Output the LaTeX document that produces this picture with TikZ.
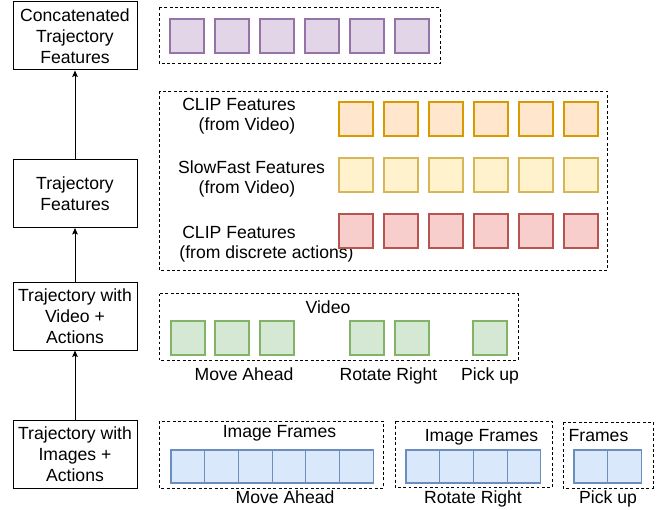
\documentclass[tikz,border=0pt]{standalone}
\usepackage{fontspec}
\setmainfont{Liberation Sans}
\usetikzlibrary{positioning,arrows.meta}
\definecolor{purplefill}{HTML}{E1D5E7}
\definecolor{purpleline}{HTML}{9673A6}
\definecolor{orangefill}{HTML}{FFE6CC}
\definecolor{orangeline}{HTML}{D79B00}
\definecolor{yellowfill}{HTML}{FFF2CC}
\definecolor{yellowline}{HTML}{D6B656}
\definecolor{redfill}{HTML}{F8CECC}
\definecolor{redline}{HTML}{B85450}
\definecolor{greenfill}{HTML}{D5E8D4}
\definecolor{greenline}{HTML}{82B366}
\definecolor{bluefill}{HTML}{DAE8FC}
\definecolor{blueline}{HTML}{6C8EBF}

\begin{document}
\begin{tikzpicture}[x=0.75pt,y=0.75pt]
\tikzset{every node/.style={inner sep=0pt,font=\fontsize{13.2}{15.75}\selectfont},
  stage/.style={draw,line width=0.75pt,align=center,minimum width=93pt,minimum height=51pt},
  groupbox/.style={line width=0.7pt,dash pattern=on 2.2pt off 1.8pt},
  feat/.style={draw,line width=0.8pt,minimum size=25.5pt},
  cell/.style={draw=blueline,fill=bluefill,line width=0.8pt,minimum width=25.3pt,minimum height=24.75pt},
  flow/.style={-{Stealth[length=4.8pt,width=4.2pt,inset=0.8pt]},line width=0.75pt},
  lbl/.style={anchor=base}}
\useasboundingbox (0,0) rectangle (664,-510);

\node[stage] (concat) at (75,-36) {Concatenated\\Trajectory\\Features};
\node[stage] (traj) at (75,-193.5) {Trajectory\\Features};
\node[stage] (video) at (75,-316) {Trajectory with\\Video +\\Actions};
\node[stage] (images) at (75,-454.5) {Trajectory with\\Images +\\Actions};
\draw[flow] (images.north) -- (video.south);
\draw[flow] (video.north) -- (traj.south);
\draw[flow] (traj.north) -- (concat.south);

\draw[groupbox] (159,-7.5) rectangle (440.5,-63.5);
\foreach \i in {0,...,5}
  \node[feat,draw=purpleline,fill=purplefill] (cat\i) at (187+45*\i,-36) {};

\draw[groupbox] (159,-91) rectangle (607.5,-270);
\node[lbl] (clipv1) at (239,-110) {CLIP Features};
\node[lbl] (clipv2) at (247,-130) {(from Video)};
\node[lbl] (slow1) at (251.5,-173) {SlowFast Features};
\node[lbl] (slow2) at (247,-193) {(from Video)};
\node[lbl] (clipa1) at (239,-238) {CLIP Features};
\node[lbl] (clipa2) at (266.5,-258) {(from discrete actions)};
\foreach \i in {0,...,5} {
  \node[feat,draw=orangeline,fill=orangefill] (cv\i) at (356+45*\i,-119) {};
  \node[feat,draw=yellowline,fill=yellowfill] (sf\i) at (356+45*\i,-175) {};
  \node[feat,draw=redline,fill=redfill] (ca\i) at (356+45*\i,-231) {};
}

\draw[groupbox] (159,-293.5) rectangle (518,-360.5);
\node[lbl] (vidlbl) at (328,-313) {Video};
\foreach \x [count=\i] in {188,232,277,367,412,490}
  \node[feat,draw=greenline,fill=greenfill] (vf\i) at (\x,-338) {};
\node[lbl] (vmove) at (244,-380) {Move Ahead};
\node[lbl] (vrot) at (388.5,-380) {Rotate Right};
\node[lbl] (vpick) at (490,-380) {Pick up};

\draw[groupbox] (159,-421) rectangle (383,-488);
\node[lbl] (frm1) at (279.5,-437) {Image Frames};
\foreach \i in {0,...,5}
  \node[cell] (ma\i) at (187.85+33.7*\i,-466.5) {};
\node[lbl] (imove) at (285,-503.5) {Move Ahead};

\draw[groupbox] (395,-421) rectangle (552,-487.5);
\node[lbl] (frm2) at (481.5,-441) {Image Frames};
\foreach \i in {0,...,3}
  \node[cell] (rr\i) at (422.85+33.7*\i,-466.5) {};
\node[lbl] (irot) at (473,-503.5) {Rotate Right};

\draw[groupbox] (563,-422) rectangle (653,-488);
\node[lbl] (frm3) at (598.5,-441) {Frames};
\foreach \i in {0,...,1}
  \node[cell] (pu\i) at (590.85+33.7*\i,-466.5) {};
\node[lbl] (ipick) at (608,-503.5) {Pick up};
\end{tikzpicture}
\end{document}
